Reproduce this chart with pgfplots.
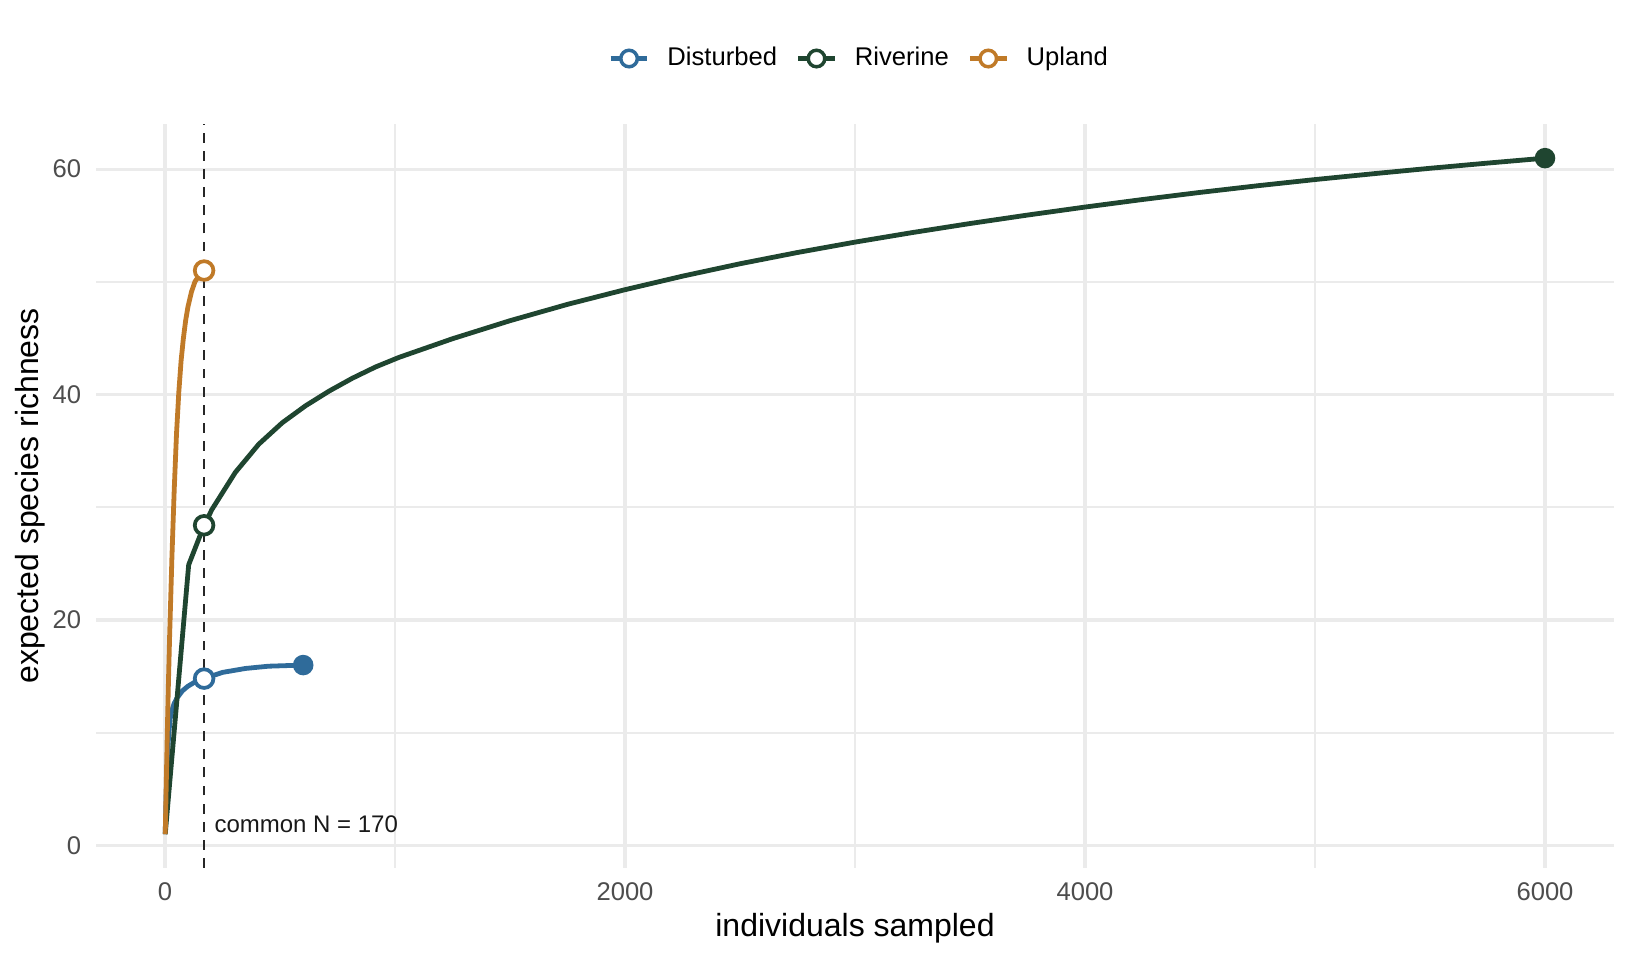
\documentclass[border=0pt]{standalone}
\usepackage{pgfplots}
\pgfplotsset{compat=1.18}
\usepackage{pgfplotstable}
\usepackage{fontspec}
\setmainfont{Liberation Sans}
\definecolor{cDist}{HTML}{2F6B9A}
\definecolor{cRiv}{HTML}{1F4530}
\definecolor{cUp}{HTML}{C07A28}
\definecolor{gridc}{HTML}{EBEBEB}
\definecolor{tickc}{HTML}{4D4D4D}

\pgfplotstableread{
x y
1 1
5 4.5
10 7.5
15 9.5
22 11.2
30 12.0
40 12.6
53 13.1
75 13.7
98 14.1
130 14.5
170 14.8
250 15.35
350 15.7
450 15.9
601 16.0
}\disturbed

\pgfplotstableread{
x y
1 1
103 24.9
170 28.4
204 29.8
306 33.1
408 35.6
510 37.5
611 39.0
713 40.3
815 41.45
916 42.45
1018 43.3
1250 44.95
1500 46.55
1750 48.0
2000 49.3
2250 50.5
2500 51.6
2750 52.6
3000 53.52
3250 54.37
3500 55.17
3750 55.92
4000 56.63
4250 57.3
4500 57.93
4750 58.52
5000 59.07
5250 59.58
5500 60.07
5750 60.53
6000 60.97
}\riverine

\pgfplotstableread{
x y
1 1
5 5
10 10
15 14.5
20 18.5
25 22
30 25.5
40 31.5
50 36.5
60 40.2
70 43
80 45
90 46.6
100 47.8
115 49.1
130 50
150 50.6
170 51.0
}\upland

\begin{document}
\begin{tikzpicture}
\begin{axis}[
  scale only axis,
  width=569.25bp, height=279bp,
  xmin=-300, xmax=6300, ymin=-2, ymax=64,
  xtick={0,2000,4000,6000}, ytick={0,20,40,60},
  minor xtick={1000,3000,5000}, minor ytick={10,30,50},
  grid=both,
  major grid style={color=gridc, line width=1.15bp},
  minor grid style={color=gridc, line width=0.6bp},
  axis line style={draw=none},
  major tick length=0pt, minor tick length=0pt,
  tick style={draw=none},
  /pgf/number format/assume math mode=true,
  /pgf/number format/1000 sep={},
  ticklabel style={font=\fontsize{9.6bp}{11bp}\selectfont, text=tickc, inner sep=0pt},
  xticklabel style={yshift=-5.4bp},
  yticklabel style={xshift=-5.4bp},
  xlabel={individuals sampled},
  ylabel={expected species richness},
  every axis x label/.style={at={(axis description cs:0.5,-0.0806)}, anchor=center, font=\fontsize{12bp}{14bp}\selectfont},
  every axis y label/.style={at={(axis description cs:-0.0432,0.5)}, rotate=90, anchor=center, font=\fontsize{12bp}{14bp}\selectfont},
  legend image code/.code={%
    \draw[#1] (0bp,0bp) -- (13.8bp,0bp);
    \draw[#1, line width=1.3bp, fill=white] (6.9bp,0bp) circle[radius=3.1bp];
  },
  legend style={at={(axis description cs:0.502,1.088)}, anchor=center, draw=none, fill=none,
    font=\fontsize{9.6bp}{11bp}\selectfont,
    nodes={inner sep=0pt},
    /tikz/every odd column/.append style={column sep=6.6bp},
    /tikz/every even column/.append style={column sep=7.0bp}},
  legend columns=3,
  legend cell align=left,
]
\coordinate (bl) at (rel axis cs:0,0);
\coordinate (tr) at (rel axis cs:1,1);

\addlegendimage{cDist, line width=1.8bp}
\addlegendentry{Disturbed}
\addlegendimage{cRiv, line width=1.8bp}
\addlegendentry{Riverine}
\addlegendimage{cUp, line width=1.8bp}
\addlegendentry{Upland}

\addplot[forget plot, black!85, line width=0.85bp, dash pattern=on 3.7bp off 3.1bp] coordinates {(170,-2) (170,64)};

\addplot[forget plot, cDist, line width=1.8bp] table[x=x,y=y]{\disturbed};
\addplot[forget plot, cRiv, line width=1.8bp] table[x=x,y=y]{\riverine};
\addplot[forget plot, cUp, line width=1.8bp] table[x=x,y=y]{\upland};

\addplot[forget plot, only marks, mark=*, mark size=3.6bp, mark options={draw=cDist, fill=cDist, line width=0.5bp}] coordinates {(601,16.0)};
\addplot[forget plot, only marks, mark=*, mark size=3.6bp, mark options={draw=cRiv, fill=cRiv, line width=0.5bp}] coordinates {(6000,60.97)};

\addplot[forget plot, only marks, mark=*, mark size=3.5bp, mark options={draw=cDist, fill=white, line width=1.4bp}] coordinates {(170,14.8)};
\addplot[forget plot, only marks, mark=*, mark size=3.5bp, mark options={draw=cRiv, fill=white, line width=1.4bp}] coordinates {(170,28.4)};
\addplot[forget plot, only marks, mark=*, mark size=3.5bp, mark options={draw=cUp, fill=white, line width=1.4bp}] coordinates {(170,51.0)};

\node[anchor=base west, inner sep=0pt, font=\fontsize{9bp}{10.8bp}\selectfont, text=black!90] at (axis cs:213,1.15) {common N = 170};
\end{axis}
\pgfresetboundingbox
\path[use as bounding box] ([shift={(-36bp,-34.5bp)}]bl) rectangle ([shift={(6.75bp,46.5bp)}]tr);
\end{tikzpicture}
\end{document}
